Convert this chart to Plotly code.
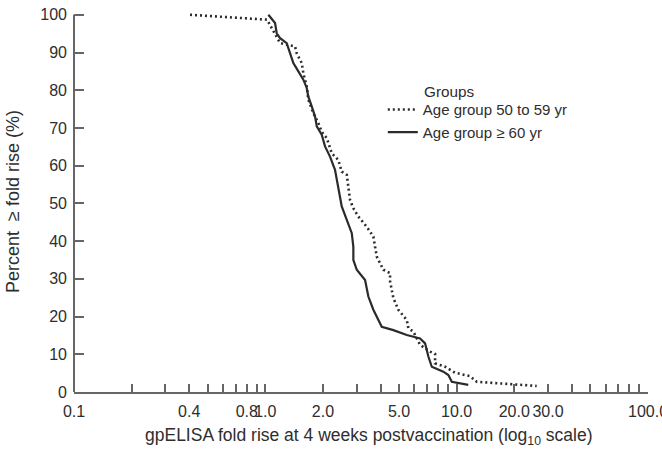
import plotly.graph_objects as go

# Age group 50 to 59 yr (dotted)
x_50_59 = [0.404, 1.021, 1.194, 1.43, 1.459, 1.55, 1.58, 1.646, 1.678, 1.782, 1.893, 1.971,
           2.094, 2.224, 2.407, 2.508, 2.665, 2.716, 2.772, 2.884, 3.064, 3.389, 3.669, 3.822,
           4.14, 4.487, 4.487, 4.668, 4.957, 5.486, 5.592, 5.94, 6.437, 7.26, 7.71, 7.71,
           8.70, 9.81, 11.75, 12.74, 16.86, 26.2]
y_50_59 = [100, 98.7, 92.5, 91.6, 89.8, 87.2, 84.5, 81.0, 77.5, 73.9, 71.3, 69.0,
           67.3, 63.3, 61.5, 58.4, 57.6, 54.5, 50.9, 48.7, 46.5, 43.8, 41.2, 35.9,
           32.4, 31.5, 29.3, 24.9, 21.8, 19.1, 16.9, 16.0, 12.5, 10.7, 10.1, 7.6,
           6.7, 5.1, 4.2, 2.7, 2.3, 1.6]

# Age group >= 60 yr (solid)
x_60 = [1.037, 1.124, 1.147, 1.194, 1.293, 1.318, 1.346, 1.401, 1.488, 1.580, 1.646, 1.678,
        1.748, 1.819, 1.857, 1.971, 2.051, 2.178, 2.313, 2.407, 2.508, 2.665, 2.830, 2.884,
        2.884, 3.005, 3.321, 3.455, 3.669, 4.059, 4.668, 5.486, 6.437, 6.837, 7.114, 7.412,
        8.52, 9.05, 9.43, 11.5]
y_60 = [100, 97.8, 95.1, 93.8, 92.5, 91.2, 89.4, 87.2, 85.0, 82.8, 80.6, 78.3,
        75.7, 73.0, 70.4, 68.2, 65.1, 62.4, 58.9, 54.5, 49.2, 45.6, 42.1, 38.5,
        35.0, 32.4, 29.7, 25.3, 21.8, 17.3, 16.4, 15.1, 14.2, 12.9, 9.4, 6.7,
        5.4, 4.5, 2.7, 1.9]

x_tickvals = [0.1, 0.4, 0.8, 1, 2, 5, 10, 20, 30, 100]
x_ticktext = ["0.1", "0.4", "0.8", "1.0", "2.0", "5.0", "10.0", "20.0", "30.0", "100.0"]
x_minor = [m * d for d in (0.1, 1, 10) for m in range(2, 10)]
y_tickvals = list(range(0, 101, 10))

FONT = "Liberation Sans, Arial, sans-serif"
INK = "#2b2b2b"
TXT = "#2e2e2e"
AXIS = "#666666"

fig = go.Figure()
fig.add_trace(go.Scatter(
    x=x_50_59, y=y_50_59, mode="lines", name="Age group 50 to 59 yr",
    line=dict(color=INK, width=2.6, dash="2px,3px"),
))
fig.add_trace(go.Scatter(
    x=x_60, y=y_60, mode="lines", name="Age group \u2265 60 yr",
    line=dict(color=INK, width=2.2),
))

fig.update_layout(
    width=662, height=450,
    margin=dict(l=74, r=14, t=11, b=58, autoexpand=False),
    paper_bgcolor="white", plot_bgcolor="white",
    font=dict(family=FONT, size=15, color=TXT),
    showlegend=True,
    legend=dict(x=0.538, y=0.784, xanchor="left", yanchor="top",
                bgcolor="rgba(0,0,0,0)", font=dict(size=15, color=TXT),
                itemwidth=30, tracegroupgap=0),
    annotations=[
        dict(text="Groups", xref="paper", yref="paper", x=0.606, y=0.79,
             xanchor="left", yanchor="middle", showarrow=False,
             font=dict(size=15.3, color=TXT)),
        dict(text="gpELISA fold rise at 4 weeks postvaccination (log<sub>10</sub> scale)",
             xref="paper", yref="paper", x=0.514, y=-0.118,
             xanchor="center", yanchor="middle", showarrow=False,
             font=dict(size=17.5, color=TXT)),
    ],
    shapes=[dict(type="line", xref="paper", yref="y", x0=0, x1=0, y0=0, y1=100,
                 line=dict(color=AXIS, width=2))],
)
fig.update_xaxes(
    type="log", range=[-1, 2], automargin=False,
    tickmode="array", tickvals=x_tickvals, ticktext=x_ticktext, tickangle=0,
    ticks="inside", ticklen=8, tickwidth=1.5, tickcolor=AXIS,
    ticklabelstandoff=4, ticklabeloverflow="allow",
    minor=dict(tickmode="array", tickvals=x_minor, ticks="inside", ticklen=8,
               tickwidth=1.5, tickcolor=AXIS, showgrid=False),
    showline=True, linecolor=AXIS, linewidth=2,
    showgrid=False, zeroline=False,
    tickfont=dict(size=16, color=TXT),
)
fig.update_yaxes(
    range=[0, 101], automargin=False,
    tickmode="array", tickvals=y_tickvals,
    ticks="inside", ticklen=10, tickwidth=1.5, tickcolor=AXIS,
    ticklabelstandoff=6,
    showline=False, showgrid=False, zeroline=False,
    tickfont=dict(size=16, color=TXT),
    title=dict(text="Percent \u00a0\u2265 fold rise (%)", font=dict(size=18, color=TXT)),
)

fig.write_html("out.html", config={"displayModeBar": False},
               post_script="document.body.style.margin='0';document.body.style.overflow='hidden';")
